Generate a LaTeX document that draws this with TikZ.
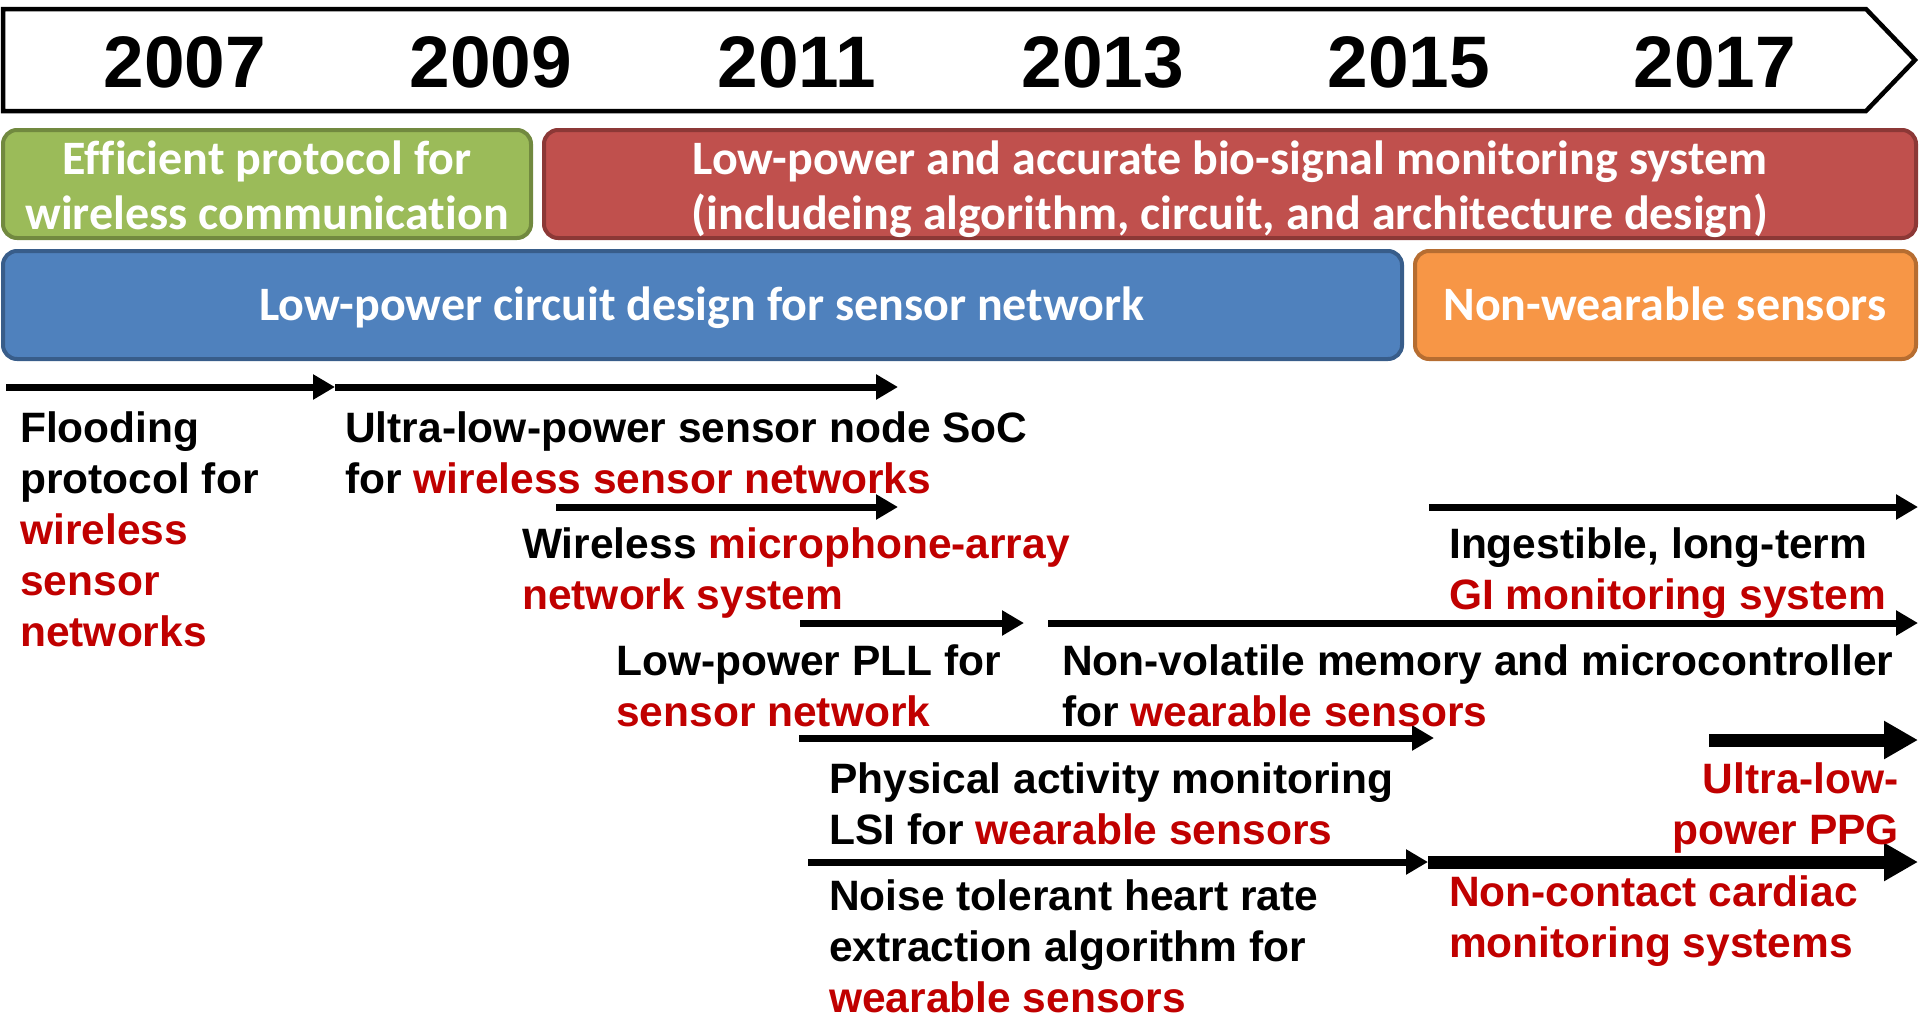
\documentclass[tikz,border=0pt]{standalone}
\usepackage{fontspec}
\setmainfont{Liberation Sans}
\newfontfamily\carl{Carlito}[Ligatures=NoCommon]
\usetikzlibrary{arrows.meta}
\definecolor{hl}{RGB}{192,0,0}
\definecolor{gfill}{HTML}{9BBB59}\definecolor{gline}{HTML}{71893F}
\definecolor{rfill}{HTML}{C0504D}\definecolor{rline}{HTML}{8C3836}
\definecolor{bfill}{HTML}{4F81BD}\definecolor{bline}{HTML}{385D8A}
\definecolor{ofill}{HTML}{F79646}\definecolor{oline}{HTML}{B66D31}
\tikzset{
  yearlbl/.style={anchor=base, inner sep=0pt, font=\fontsize{73}{80}\selectfont\bfseries},
  band/.style={rectangle, rounded corners=14pt, line width=4pt, minimum height=108pt, inner sep=0pt},
  bandtxt/.style={inner sep=0pt, text=white, align=center, font=\carl\fontsize{48}{55}\selectfont\bfseries},
  body/.style={inner sep=0pt, align=left, font=\fontsize{42.5}{51}\selectfont\bfseries},
  thinarr/.style={line width=7pt, -{Triangle[length=22pt,width=24pt]}},
  thickarr/.style={line width=13pt, -{Triangle[length=34pt,width=36pt]}},
}
\begin{document}
\begin{tikzpicture}[x=1pt,y=-1pt]
\useasboundingbox (0,0) rectangle (1920,1018);
% banner
\draw[line width=4.5pt, fill=white] (3,9) -- (1866,9) -- (1915,60) -- (1866,111) -- (3,111) -- cycle;
\foreach \yr [count=\i from 0] in {2007,2009,2011,2013,2015,2017}
  \node[yearlbl] (y\yr) at (185+306*\i, 87) {\yr};
% bands
\node[band, fill=gfill, draw=gline, minimum width=528pt] (green) at (267,184) {};
\node[band, fill=rfill, draw=rline, minimum width=1372pt] (red) at (1230,184) {};
\node[band, fill=bfill, draw=bline, minimum width=1399pt] (blue) at (702.5,305) {};
\node[band, fill=ofill, draw=oline, minimum width=501pt] (orange) at (1665.5,305) {};
\node[bandtxt, anchor=north] (greent) at (267,134) {\rule{0pt}{40pt}Efficient protocol for\\wireless communication};
\node[bandtxt, anchor=north] (redt) at (1230,134) {\rule{0pt}{40pt}Low-power and accurate bio-signal monitoring system\\(includeing algorithm, circuit, and architecture design)};
\node[bandtxt, anchor=base] (bluet) at (702,320) {Low-power circuit design for sensor network};
\node[bandtxt, anchor=base] (oranget) at (1665,320) {Non-wearable sensors};
% arrow end points
\coordinate (a1s) at (6,387);    \coordinate (a1e) at (335,387);
\coordinate (a2e) at (898,387);
\coordinate (a3s) at (556,507);  \coordinate (a3e) at (898,507);
\coordinate (a4s) at (800,623);  \coordinate (a4e) at (1024,623);
\coordinate (a5s) at (1429,507); \coordinate (a5e) at (1918,507);
\coordinate (a6s) at (1048,623); \coordinate (a6e) at (1918,623);
\coordinate (a7s) at (799,738);  \coordinate (a7e) at (1434,738);
\coordinate (a8s) at (1709,740); \coordinate (a8e) at (1918,740);
\coordinate (a9s) at (808,862);  \coordinate (a9e) at (1428,862);
\coordinate (a10e) at (1918,862);
\draw[thinarr] (a1s) -- (a1e);
\draw[thinarr] (a1e) -- (a2e);
\draw[thinarr] (a3s) -- (a3e);
\draw[thinarr] (a4s) -- (a4e);
\draw[thinarr] (a5s) -- (a5e);
\draw[thinarr] (a6s) -- (a6e);
\draw[thinarr] (a7s) -- (a7e);
\draw[thickarr] (a8s) -- (a8e);
\draw[thinarr] (a9s) -- (a9e);
\draw[thickarr] (a9e) -- (a10e);
% texts
\node[body, anchor=north west] (flood) at (20,404) {\rule{0pt}{38pt}Flooding\\protocol for\\\textcolor{hl}{wireless}\\\textcolor{hl}{sensor}\\\textcolor{hl}{networks}};
\node[body, anchor=north west] (soc) at (345,404) {\rule{0pt}{38pt}Ultra-low-power sensor node SoC\\for \textcolor{hl}{wireless sensor networks}};
\node[body, anchor=north west] (mic) at (522,520) {\rule{0pt}{38pt}Wireless \textcolor{hl}{microphone-array}\\\textcolor{hl}{network system}};
\node[body, anchor=north west] (pll) at (616,637) {\rule{0pt}{38pt}Low-power PLL for\\\textcolor{hl}{sensor network}};
\node[body, anchor=north west] (gi) at (1449,520) {\rule{0pt}{38pt}Ingestible, long-term\\\textcolor{hl}{GI monitoring system}};
\node[body, anchor=north west] (nvm) at (1062,637) {\rule{0pt}{38pt}Non-volatile memory and microcontroller\\for \textcolor{hl}{wearable sensors}};
\node[body, anchor=north west] (lsi) at (829,755) {\rule{0pt}{38pt}Physical activity monitoring\\LSI for \textcolor{hl}{wearable sensors}};
\node[body, anchor=north east, align=right, text=hl] (ppg) at (1899,755) {\rule{0pt}{38pt}Ultra-low-\\power PPG};
\node[body, anchor=north west] (hr) at (829,872) {\rule{0pt}{38pt}Noise tolerant heart rate\\extraction algorithm for\\\textcolor{hl}{wearable sensors}};
\node[body, anchor=north west, text=hl] (card) at (1449,868) {\rule{0pt}{38pt}Non-contact cardiac\\monitoring systems};
\end{tikzpicture}
\end{document}
